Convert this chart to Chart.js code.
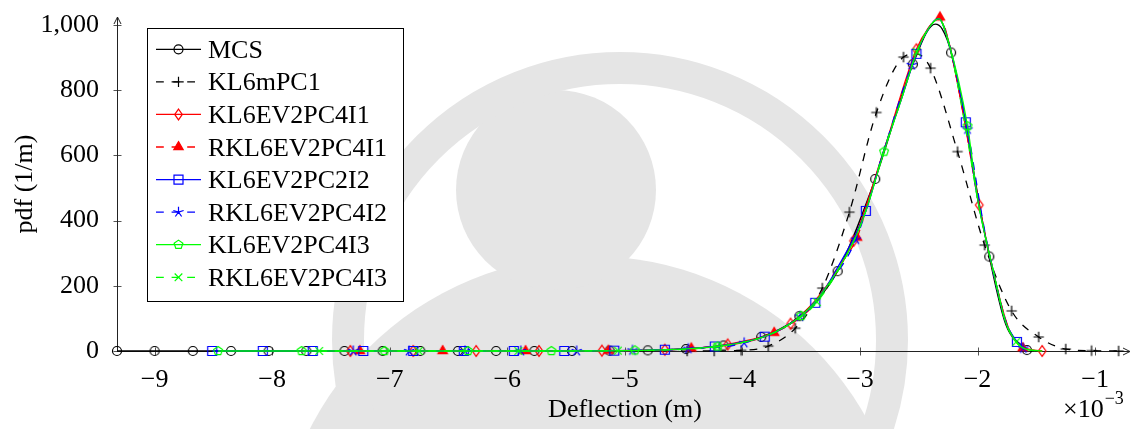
<!DOCTYPE html>
<html lang="en">
<head>
    <meta charset="UTF-8">
    <title>Deflection pdf</title>
    <script src="https://cdn.jsdelivr.net/npm/chart.js"></script>
    <style>
        html, body { margin: 0; padding: 0; background: #fff; }
        #wrap { width: 1138px; height: 429px; }
    </style>
</head>
<body>
    <div id="wrap"><canvas id="pdfChart" width="1138" height="429"></canvas></div>

    <script>
        // deflection in 1e-3 m, pdf in 1/m
        const xTicks = [-9, -8, -7, -6, -5, -4, -3, -2, -1];
        const yTicks = [0, 200, 400, 600, 800, 1000];

        // MCS
        const mcsX = [-9.32, -9.00, -8.675, -8.35, -8.03, -7.71, -7.385, -7.06, -6.74, -6.42, -6.095, -5.77, -5.45, -5.13, -4.805, -4.48, -4.16, -3.84, -3.515, -3.19, -2.87, -2.55, -2.225, -1.90, -1.58];
        const mcsY = [0, 0, 0, 0, 0, 0, 0, 0, 0, 0, 0, 0, 0, 1, 2, 6, 17, 43, 107, 245, 528, 880, 916, 290, 3];
        const mcsMidX = [-2.36, -2.30, -1.76];
        const mcsMidY = [1003, 988, 82];

        // KL6mPC1
        const kl1X = [-4.47, -4.24, -4.01, -3.78, -3.55, -3.32, -3.09, -2.86, -2.63, -2.40, -2.17, -1.94, -1.71, -1.48, -1.25, -1.03, -0.80];
        const kl1Y = [0, 0, 2, 15, 70, 193, 426, 732, 902, 868, 612, 325, 123, 43, 6, 1, 0];
        const kl1MidX = [-2.52];
        const kl1MidY = [912];

        // KL6EV2PC4I1
        const ev1X = [-7.335, -6.80, -6.265, -5.73, -5.195, -4.66, -4.125, -3.59, -3.055, -2.52, -1.985, -1.45];
        const ev1Y = [0, 0, 0, 0, 1, 4, 20, 84, 338, 926, 448, 0];
        const ev1MidX = [-3.32, -2.80, -2.42, -2.33, -2.25, -2.11, -1.85, -1.74, -1.64];
        const ev1MidY = [182, 612, 990, 1021, 956, 706, 218, 74, 16];

        // RKL6EV2PC4I1
        const rev1X = [-7.255, -6.55, -5.845, -5.14, -4.435, -3.73, -3.025, -2.32, -1.615];
        const rev1Y = [0, 0, 0, 1, 8, 56, 348, 1024, 9];
        const rev1MidX = [-3.37, -3.20, -2.95, -2.80, -2.65, -2.52, -2.42, -2.25, -2.11, -2.00, -1.87, -1.74];
        const rev1MidY = [150, 250, 432, 612, 772, 916, 990, 956, 704, 470, 252, 72];

        // KL6EV2PC2I2
        const ev2X = [-8.51, -8.08, -7.655, -7.225, -6.80, -6.37, -5.945, -5.515, -5.09, -4.66, -4.235, -3.81, -3.38, -2.95, -2.52, -2.10, -1.665];
        const ev2Y = [0, 0, 0, 0, 0, 0, 0, 0, 1, 4, 14, 44, 148, 430, 912, 702, 28];
        const ev2MidX = [-3.60, -3.20, -2.80, -2.65, -2.42, -2.33, -2.25, -2.00, -1.87, -1.76];
        const ev2MidY = [82, 250, 612, 770, 988, 1020, 952, 468, 252, 88];

        // RKL6EV2PC4I2
        const rev2X = [-7.31, -6.835, -6.36, -5.885, -5.41, -4.935, -4.46, -3.985, -3.51, -3.035, -2.56, -2.085, -1.61];
        const rev2Y = [0, 0, 0, 0, 0, 2, 7, 25, 106, 342, 878, 680, 8];
        const rev2MidX = [-3.30, -2.80, -2.42, -2.33, -2.25, -1.95, -1.84, -1.74];
        const rev2MidY = [190, 612, 988, 1020, 952, 390, 200, 72];

        // KL6EV2PC4I3
        const ev3X = [-8.46, -7.75, -7.045, -6.335, -5.625, -4.915, -4.21, -3.50, -2.795, -2.085];
        const ev3Y = [0, 0, 0, 0, 0, 2, 14, 108, 612, 690];
        const ev3MidX = [-3.80, -3.30, -3.05, -2.95, -2.65, -2.52, -2.42, -2.33, -2.25, -2.00, -1.87, -1.76, -1.67, -1.60, -1.45];
        const ev3MidY = [46, 188, 340, 430, 770, 914, 988, 1020, 952, 468, 252, 88, 28, 7, 0];

        // RKL6EV2PC4I3
        const rev3X = [-7.60, -6.753, -5.906, -5.059, -4.212, -3.365, -2.518, -1.671];
        const rev3Y = [0, 0, 0, 1, 14, 150, 918, 28];
        const rev3MidX = [-3.80, -3.60, -3.05, -2.95, -2.80, -2.65, -2.42, -2.33, -2.25, -2.11, -2.00, -1.87, -1.76, -1.60, -1.45];
        const rev3MidY = [46, 82, 340, 430, 612, 770, 988, 1020, 952, 702, 468, 252, 88, 7, 0];

        const series = [
            { label: 'MCS',          color: '#000000', dash: [],         mark: 'circle',   x: mcsX,  y: mcsY,  mx: mcsMidX,  my: mcsMidY },
            { label: 'KL6mPC1',      color: '#000000', dash: [7.8, 7.8], mark: 'plus',     x: kl1X,  y: kl1Y,  mx: kl1MidX,  my: kl1MidY },
            { label: 'KL6EV2PC4I1',  color: '#ff0000', dash: [],         mark: 'diamond',  x: ev1X,  y: ev1Y,  mx: ev1MidX,  my: ev1MidY },
            { label: 'RKL6EV2PC4I1', color: '#ff0000', dash: [7.8, 7.8], mark: 'triangle', x: rev1X, y: rev1Y, mx: rev1MidX, my: rev1MidY },
            { label: 'KL6EV2PC2I2',  color: '#0000ff', dash: [],         mark: 'square',   x: ev2X,  y: ev2Y,  mx: ev2MidX,  my: ev2MidY },
            { label: 'RKL6EV2PC4I2', color: '#0000ff', dash: [7.8, 7.8], mark: 'star',     x: rev2X, y: rev2Y, mx: rev2MidX, my: rev2MidY },
            { label: 'KL6EV2PC4I3',  color: '#00ff00', dash: [],         mark: 'pentagon', x: ev3X,  y: ev3Y,  mx: ev3MidX,  my: ev3MidY },
            { label: 'RKL6EV2PC4I3', color: '#00ff00', dash: [7.8, 7.8], mark: 'cross',    x: rev3X, y: rev3Y, mx: rev3MidX, my: rev3MidY }
        ];

        const FONT = "'Liberation Serif', 'Times New Roman', serif";

        function drawMark(ctx, kind, color, cx, cy) {
            ctx.save();
            ctx.strokeStyle = color;
            ctx.fillStyle = color;
            ctx.lineWidth = 1.2;
            ctx.setLineDash([]);
            ctx.beginPath();
            if (kind === 'circle') {
                ctx.arc(cx, cy, 4.5, 0, Math.PI * 2);
            } else if (kind === 'plus') {
                ctx.moveTo(cx - 5.2, cy); ctx.lineTo(cx + 5.2, cy);
                ctx.moveTo(cx, cy - 5.2); ctx.lineTo(cx, cy + 5.2);
            } else if (kind === 'diamond') {
                ctx.moveTo(cx, cy - 5.4); ctx.lineTo(cx + 3.8, cy);
                ctx.lineTo(cx, cy + 5.4); ctx.lineTo(cx - 3.8, cy); ctx.closePath();
            } else if (kind === 'triangle') {
                ctx.moveTo(cx, cy - 5.4); ctx.lineTo(cx + 4.7, cy + 2.7);
                ctx.lineTo(cx - 4.7, cy + 2.7); ctx.closePath(); ctx.fill();
            } else if (kind === 'square') {
                ctx.rect(cx - 4.5, cy - 4.5, 9, 9);
            } else if (kind === 'star') {
                for (let k = 0; k < 5; k++) {
                    const a = -Math.PI / 2 + k * 2 * Math.PI / 5;
                    ctx.moveTo(cx, cy);
                    ctx.lineTo(cx + 5.4 * Math.cos(a), cy + 5.4 * Math.sin(a));
                }
            } else if (kind === 'pentagon') {
                for (let k = 0; k < 5; k++) {
                    const a = -Math.PI / 2 + k * 2 * Math.PI / 5;
                    const px = cx + 4.6 * Math.cos(a), py = cy + 4.6 * Math.sin(a);
                    if (k === 0) ctx.moveTo(px, py); else ctx.lineTo(px, py);
                }
                ctx.closePath();
            } else if (kind === 'cross') {
                ctx.moveTo(cx - 3.8, cy - 3.8); ctx.lineTo(cx + 3.8, cy + 3.8);
                ctx.moveTo(cx - 3.8, cy + 3.8); ctx.lineTo(cx + 3.8, cy - 3.8);
            }
            ctx.stroke();
            ctx.restore();
        }

        function markImage(kind, color) {
            const c = document.createElement('canvas');
            c.width = 16;
            c.height = 16;
            drawMark(c.getContext('2d'), kind, color, 8, 8);
            return c;
        }

        function buildPoints(s) {
            const pts = s.x.map((x, i) => ({ x: x, y: s.y[i], m: true }));
            s.mx.forEach((x, i) => pts.push({ x: x, y: s.my[i], m: false }));
            return pts.sort((a, b) => a.x - b.x);
        }

        // faint seal in the page background
        const sealPlugin = {
            id: 'seal',
            beforeDraw(chart) {
                const ctx = chart.ctx;
                ctx.save();
                ctx.fillStyle = '#ffffff';
                ctx.fillRect(0, 0, chart.width, chart.height);
                ctx.fillStyle = '#e5e5e5';
                ctx.strokeStyle = '#e5e5e5';
                ctx.beginPath();
                ctx.arc(591, 571, 315, 0, Math.PI * 2);
                ctx.fill();
                ctx.beginPath();
                ctx.arc(556, 190, 100, 0, Math.PI * 2);
                ctx.fill();
                ctx.lineWidth = 32;
                ctx.beginPath();
                ctx.arc(620, 340, 272, 0, Math.PI * 2);
                ctx.stroke();
                ctx.restore();
            }
        };

        // axis lines through the origin, with arrow heads and crossing ticks
        const axesPlugin = {
            id: 'axes',
            beforeDatasetsDraw(chart) {
                const ctx = chart.ctx;
                const xs = chart.scales.x, ys = chart.scales.y;
                const y0 = Math.round(ys.getPixelForValue(0)) + 0.5;
                const x0 = Math.round(chart.chartArea.left) + 0.5;
                const xEnd = chart.chartArea.right + 2;
                const yEnd = chart.chartArea.top;
                ctx.save();
                ctx.lineWidth = 1;
                ctx.strokeStyle = '#555';
                xTicks.forEach(v => {
                    const px = Math.round(xs.getPixelForValue(v)) + 0.5;
                    ctx.beginPath(); ctx.moveTo(px, y0 - 4); ctx.lineTo(px, y0 + 4); ctx.stroke();
                });
                yTicks.forEach(v => {
                    const py = Math.round(ys.getPixelForValue(v)) + 0.5;
                    ctx.beginPath(); ctx.moveTo(x0 - 4, py); ctx.lineTo(x0 + 4, py); ctx.stroke();
                });
                ctx.strokeStyle = '#222';
                ctx.beginPath();
                ctx.moveTo(x0, y0); ctx.lineTo(xEnd, y0);
                ctx.moveTo(xEnd - 7, y0 - 3.5); ctx.lineTo(xEnd, y0); ctx.lineTo(xEnd - 7, y0 + 3.5);
                ctx.moveTo(x0, chart.chartArea.bottom); ctx.lineTo(x0, yEnd);
                ctx.moveTo(x0 - 3.5, yEnd + 7); ctx.lineTo(x0, yEnd); ctx.lineTo(x0 + 3.5, yEnd + 7);
                ctx.stroke();
                ctx.restore();
            },
            afterDraw(chart) {
                const ctx = chart.ctx;
                ctx.save();
                ctx.fillStyle = '#000';
                ctx.font = '26px ' + FONT;
                ctx.textAlign = 'center';
                ctx.textBaseline = 'alphabetic';
                ctx.fillText('Deflection (m)', 625, 417);
                ctx.save();
                ctx.translate(25, 184);
                ctx.rotate(-Math.PI / 2);
                ctx.textBaseline = 'middle';
                ctx.fillText('pdf (1/m)', 0, 0);
                ctx.restore();
                ctx.textAlign = 'left';
                ctx.fillText('\u00d710', 1063, 417);
                const w = ctx.measureText('\u00d710').width;
                ctx.font = '18px ' + FONT;
                ctx.fillText('\u22123', 1063 + w + 1, 404);

                // legend
                const bx = 147.5, by = 28.5, bw = 256, bh = 273;
                ctx.fillStyle = '#fff';
                ctx.fillRect(bx, by, bw, bh);
                ctx.strokeStyle = '#000';
                ctx.lineWidth = 1;
                ctx.strokeRect(bx, by, bw, bh);
                ctx.font = '26px ' + FONT;
                ctx.textAlign = 'left';
                ctx.textBaseline = 'alphabetic';
                series.forEach((s, i) => {
                    const cy = 49.3 + i * 32.57;
                    ctx.save();
                    ctx.strokeStyle = s.color;
                    ctx.lineWidth = 1.3;
                    ctx.setLineDash(s.dash);
                    ctx.beginPath();
                    ctx.moveTo(156, cy); ctx.lineTo(201, cy);
                    ctx.stroke();
                    ctx.restore();
                    drawMark(ctx, s.mark, s.color, 178.5, cy);
                    ctx.fillStyle = '#000';
                    ctx.fillText(s.label, 208, cy + 8.5);
                });
                ctx.restore();
            }
        };

        const datasets = series.map((s, i) => ({
            label: s.label,
            data: buildPoints(s),
            showLine: true,
            borderColor: s.color,
            borderWidth: 1.3,
            borderDash: s.dash,
            cubicInterpolationMode: 'monotone',
            fill: false,
            clip: false,
            order: series.length - i,
            pointStyle: markImage(s.mark, s.color),
            pointRadius: ctx => (ctx.raw && ctx.raw.m ? 5 : 0),
            pointHoverRadius: 0
        }));

        const ctx = document.getElementById('pdfChart').getContext('2d');
        const pdfChart = new Chart(ctx, {
            type: 'scatter',
            data: { datasets: datasets },
            options: {
                responsive: false,
                animation: false,
                devicePixelRatio: 1,
                events: [],
                layout: { padding: { top: 17, right: 10, left: 0, bottom: 0 } },
                plugins: {
                    legend: { display: false },
                    tooltip: { enabled: false }
                },
                scales: {
                    x: {
                        type: 'linear',
                        min: -9.32,
                        max: -0.72,
                        grid: { display: false },
                        border: { display: false },
                        afterFit: s => { s.height = 78; s.paddingLeft = 0; s.paddingRight = 0; },
                        afterBuildTicks: s => { s.ticks = xTicks.map(v => ({ value: v })); },
                        ticks: {
                            padding: 6,
                            color: '#000',
                            font: { family: FONT, size: 26 },
                            maxRotation: 0,
                            autoSkip: false,
                            callback: v => (v < 0 ? '\u2212' + Math.abs(v) : String(v))
                        }
                    },
                    y: {
                        type: 'linear',
                        min: 0,
                        max: 1025,
                        grid: { display: false },
                        border: { display: false },
                        afterFit: s => { s.width = 117; s.paddingTop = 0; s.paddingBottom = 0; },
                        afterBuildTicks: s => { s.ticks = yTicks.map(v => ({ value: v })); },
                        ticks: {
                            padding: 10,
                            color: '#000',
                            font: { family: FONT, size: 26 },
                            autoSkip: false,
                            callback: v => v.toLocaleString('en-US')
                        }
                    }
                }
            },
            plugins: [sealPlugin, axesPlugin]
        });
    </script>
</body>
</html>
